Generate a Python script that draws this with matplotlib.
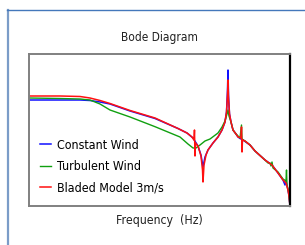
import matplotlib
matplotlib.use("Agg")
import matplotlib.pyplot as plt
from matplotlib.lines import Line2D

plt.rcParams['font.family'] = ['DejaVu Sans']
plt.rcParams['font.stretch'] = 'condensed'

# frequency (Hz) and magnitude (dB)
f_const = [0.0100, 0.0227, 0.0386, 0.0502, 0.0655, 0.0853, 0.145, 0.281, 0.516, 0.655,
           0.768, 0.876, 0.948, 1.000, 1.054, 1.141, 1.303, 1.487, 1.654, 1.790,
           1.863, 1.912, 1.938, 1.964, 2.017, 2.098, 2.212, 2.395, 2.526, 2.663,
           2.883, 3.469, 3.960, 5.160, 6.211, 7.281, 8.309, 8.760, 8.995, 9.484,
           9.739, 10.0]
m_const = [-26, -26, -26, -26.5, -28, -30, -37, -44.5, -54.5, -59,
           -64, -72, -81, -93, -83, -76, -69, -63, -56, -48,
           -38, -16, 4, -21, -40, -48, -56, -60, -63, -64.5,
           -66, -71, -77, -86, -91, -99, -106, -111, -107, -116,
           -122, -132]

f_turb = [0.0100, 0.0227, 0.0386, 0.0502, 0.0655, 0.0853, 0.145, 0.281, 0.544, 0.672,
          0.768, 0.831, 0.924, 1.054, 1.204, 1.487, 1.654, 1.790, 1.887, 1.938,
          1.990, 2.098, 2.212, 2.395, 2.526, 2.663, 2.770, 2.807, 3.040, 3.469,
          3.960, 5.160, 5.587, 5.891, 6.049, 6.211, 6.376, 7.281, 8.309, 8.995,
          9.117, 9.237, 9.484, 9.739, 10.0]
m_turb = [-24, -24.5, -25, -26, -30, -36, -43, -52.7, -63, -70,
          -74, -74, -71, -67, -65, -59, -53, -47, -40, -36,
          -42, -48, -56, -60, -62, -64, -51, -65, -67, -71,
          -77, -86, -89, -89, -92, -88, -94, -98, -105, -107,
          -96, -111, -115, -121, -132]

f_bladed = [0.0100, 0.0227, 0.0386, 0.0502, 0.0655, 0.0853, 0.145, 0.281, 0.516, 0.655,
            0.747, 0.788, 0.798, 0.809, 0.820, 0.876, 0.948, 0.987, 1.000, 1.027,
            1.083, 1.141, 1.303, 1.487, 1.654, 1.790, 1.863, 1.912, 1.938, 1.964,
            2.017, 2.098, 2.212, 2.395, 2.526, 2.735, 2.770, 2.807, 2.844, 3.040,
            3.469, 3.960, 5.160, 6.211, 7.281, 8.309, 8.995, 9.484, 9.739, 10.0]
m_bladed = [-22, -22, -22.5, -24, -26.5, -29.5, -36.5, -44, -54.5, -59,
            -63, -66, -56, -82, -69, -72, -82, -96, -108, -91,
            -81, -76, -69, -63, -56, -48, -38, -21, -6, -24,
            -40, -48, -56, -60, -63, -64, -53, -78, -66, -67,
            -71, -77, -86, -91, -99, -106, -109, -116, -122, -132]

fig = plt.figure(figsize=(3.05, 2.45), dpi=100)

# slide frame
fig.add_artist(Line2D([8 / 305, 8 / 305], [0, 1 - 10 / 245], color='#7b9cc8', lw=1.6))
fig.add_artist(Line2D([7 / 305, 1], [1 - 10 / 245, 1 - 10 / 245], color='#4478bb', lw=1.0))

ax = fig.add_axes([29 / 305, 1 - 206 / 245, 261 / 305, 152 / 245])
ax.semilogx(f_const, m_const, color='#1010ff', lw=1.1, label='Constant Wind')
ax.semilogx(f_turb, m_turb, color='#10a010', lw=1.0, label='Turbulent Wind')
ax.semilogx(f_bladed, m_bladed, color='#ff1010', lw=1.1, label='Bladed Model 3m/s')
ax.set_xlim(0.01, 10)
ax.set_ylim(-132, 20)
ax.set_xticks([])
ax.set_yticks([])
ax.minorticks_off()
ax.tick_params(which='both', length=0)
for side in ['left', 'top', 'bottom']:
    ax.spines[side].set_color('#808080')
    ax.spines[side].set_linewidth(1.4)
ax.spines['right'].set_color('black')
ax.spines['right'].set_linewidth(1.6)

ax.legend(loc='upper left', bbox_to_anchor=(0.025, 0.475), frameon=False, fontsize=8.9,
          handlelength=0.85, handletextpad=0.45, labelspacing=0.66, borderaxespad=0)

fig.text(159 / 305, 1 - 37 / 245, 'Bode Diagram', ha='center', va='center',
         fontsize=8.6, color='#222222')
fig.text(159 / 305, 1 - 220 / 245, 'Frequency  (Hz)', ha='center', va='center',
         fontsize=8.8, color='#222222')

fig.savefig('out.png', dpi=100)
